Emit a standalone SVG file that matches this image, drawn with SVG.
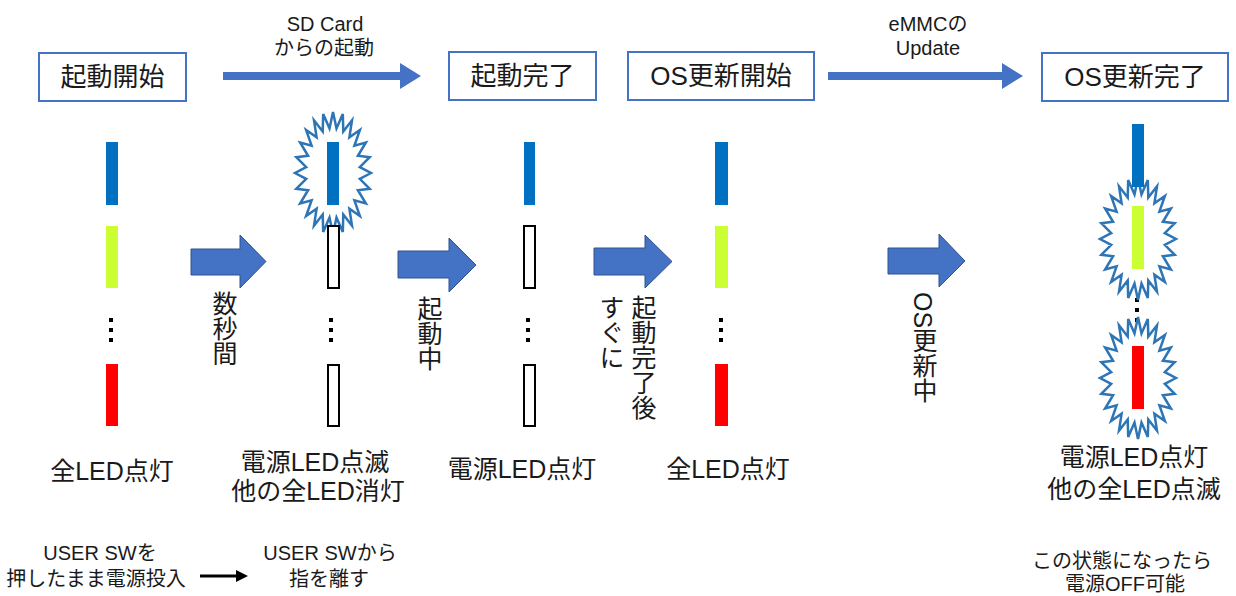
<svg xmlns="http://www.w3.org/2000/svg" xmlns:xlink="http://www.w3.org/1999/xlink" width="1236" height="596" viewBox="0 0 1236 596">
<style>
text{font-family:"Liberation Sans","Noto Sans CJK JP",sans-serif;fill:#1a1a1a;text-anchor:middle;dominant-baseline:central}
.box{fill:#fff;stroke:#4472C4;stroke-width:2}
.bt{font-size:26px}
.lb{font-size:25px}
.sm{font-size:20px}
.vt{font-size:25px;writing-mode:vertical-rl;text-anchor:start;dominant-baseline:central}
.blue{fill:#0070C0}
.green{fill:#CCFF33}
.red{fill:#FF0000}
.off{fill:#fff;stroke:#000;stroke-width:2}
.dot{fill:#000}
.star{fill:#fff;stroke:#2E75B6;stroke-width:2.5;stroke-linejoin:miter}
.fat{fill:#4472C4;stroke:#2F528F;stroke-width:1}
.thin{stroke:#4472C4;stroke-width:8;fill:none}
.head{fill:#4472C4}
</style>
<defs>
<polygon id="burst" points="38,0 26.8,5.9 36.7,15.8 24.9,17.2 32.9,30.5 21.4,27.4 26.9,43.1 16.4,35.7 19,52.8 10.3,41.6 9.8,58.9 3.5,44.6 0,61 -3.5,44.6 -9.8,58.9 -10.3,41.6 -19,52.8 -16.4,35.7 -26.9,43.1 -21.4,27.4 -32.9,30.5 -24.9,17.2 -36.7,15.8 -26.8,5.9 -38,0 -26.8,-5.9 -36.7,-15.8 -24.9,-17.2 -32.9,-30.5 -21.4,-27.4 -26.9,-43.1 -16.4,-35.7 -19,-52.8 -10.3,-41.6 -9.8,-58.9 -3.5,-44.6 0,-61 3.5,-44.6 9.8,-58.9 10.3,-41.6 19,-52.8 16.4,-35.7 26.9,-43.1 21.4,-27.4 32.9,-30.5 24.9,-17.2 36.7,-15.8 26.8,-5.9"/>
</defs>

<g id="connectors">
  <line class="thin" x1="223" y1="76" x2="404" y2="76"/>
  <polygon class="head" points="400,63 421,76 400,89"/>
  <line class="thin" x1="828" y1="76" x2="1006" y2="76"/>
  <polygon class="head" points="1002,63 1023,76 1002,89"/>
  <polygon class="fat" points="191,249 240,249 240,235 266,261.5 240,288 240,275 191,275"/>
  <polygon class="fat" points="398,251 449,251 449,238 476,265 449,292 449,278 398,278"/>
  <polygon class="fat" points="594,248 645,248 645,235 672,261.5 645,288 645,275 594,275"/>
  <polygon class="fat" points="888,248 939,248 939,234 965,261 939,287 939,274 888,274"/>
  <line x1="200" y1="576" x2="238" y2="576" stroke="#000" stroke-width="3"/>
  <polygon points="236,570 248,576 236,582" fill="#000"/>
  <text class="sm" x="325" y="24">SD Card</text>
  <text class="sm" x="324" y="48">からの起動</text>
  <text class="sm" x="928" y="24">eMMCの</text>
  <text class="sm" x="928" y="48">Update</text>
  <text class="vt" x="223" y="291">数秒間</text>
  <text class="vt" x="428" y="296">起動中</text>
  <text class="vt" x="642" y="295">起動完了後</text>
  <text class="vt" x="610" y="295">すぐに</text>
  <text class="vt" x="923" y="292">OS更新中</text>
</g>

<g id="box-start">
  <rect class="box" x="39" y="53" width="147" height="48"/>
  <text class="bt" x="112.5" y="77">起動開始</text>
</g>
<g id="box-boot-done">
  <rect class="box" x="449" y="52" width="147" height="48"/>
  <text class="bt" x="522.5" y="76">起動完了</text>
</g>
<g id="box-os-start">
  <rect class="box" x="628" y="52" width="186" height="48"/>
  <text class="bt" x="721" y="76">OS更新開始</text>
</g>
<g id="box-os-done">
  <rect class="box" x="1042" y="53" width="186" height="48"/>
  <text class="bt" x="1135" y="77">OS更新完了</text>
</g>

<g id="col1">
  <rect class="blue" x="106" y="142" width="12" height="63"/>
  <rect class="green" x="106" y="226" width="12" height="62"/>
  <rect class="dot" x="109" y="318" width="4" height="4"/>
  <rect class="dot" x="109" y="328" width="4" height="4"/>
  <rect class="dot" x="109" y="338" width="4" height="4"/>
  <rect class="red" x="106" y="364" width="12" height="62"/>
  <text class="lb" x="112" y="471">全LED点灯</text>
</g>

<g id="col2">
  <use xlink:href="#burst" class="star" transform="translate(333,173)"/>
  <rect class="blue" x="327" y="142" width="12" height="63"/>
  <rect class="off" x="328" y="226" width="11" height="62"/>
  <rect class="dot" x="329" y="318" width="4" height="4"/>
  <rect class="dot" x="329" y="328" width="4" height="4"/>
  <rect class="dot" x="329" y="338" width="4" height="4"/>
  <rect class="off" x="328" y="365" width="11" height="61"/>
  <text class="lb" x="315" y="462">電源LED点滅</text>
  <text class="lb" x="318" y="491">他の全LED消灯</text>
</g>

<g id="col3">
  <rect class="blue" x="524" y="142" width="11" height="63"/>
  <rect class="off" x="524" y="226" width="11" height="62"/>
  <rect class="dot" x="526" y="318" width="4" height="4"/>
  <rect class="dot" x="526" y="328" width="4" height="4"/>
  <rect class="dot" x="526" y="338" width="4" height="4"/>
  <rect class="off" x="524" y="365" width="11" height="61"/>
  <text class="lb" x="522" y="469">電源LED点灯</text>
</g>

<g id="col4">
  <rect class="blue" x="715" y="142" width="13" height="63"/>
  <rect class="green" x="715" y="226" width="13" height="62"/>
  <rect class="dot" x="719" y="318" width="4" height="4"/>
  <rect class="dot" x="719" y="328" width="4" height="4"/>
  <rect class="dot" x="719" y="338" width="4" height="4"/>
  <rect class="red" x="715" y="364" width="13" height="62"/>
  <text class="lb" x="728" y="469">全LED点灯</text>
</g>

<g id="col5">
  <rect class="dot" x="1135" y="298" width="4" height="4"/>
  <rect class="dot" x="1135" y="308" width="4" height="4"/>
  <rect class="dot" x="1135" y="318" width="4" height="4"/>
  <use xlink:href="#burst" class="star" transform="translate(1138,239)"/>
  <use xlink:href="#burst" class="star" transform="translate(1138,378)"/>
  <rect class="blue" x="1132" y="124" width="12" height="63"/>
  <rect class="green" x="1132" y="206" width="12" height="63"/>
  <rect class="red" x="1132" y="346" width="12" height="63"/>
  <text class="lb" x="1134" y="457">電源LED点灯</text>
  <text class="lb" x="1134" y="489">他の全LED点滅</text>
  <text class="sm" x="1122" y="561">この状態になったら</text>
  <text class="sm" x="1125" y="584">電源OFF可能</text>
</g>

<g id="note-left">
  <text class="sm" x="100" y="553">USER SWを</text>
  <text class="sm" x="96" y="579">押したまま電源投入</text>
</g>
<g id="note-mid">
  <text class="sm" x="330" y="553">USER SWから</text>
  <text class="sm" x="329" y="579">指を離す</text>
</g>
</svg>
